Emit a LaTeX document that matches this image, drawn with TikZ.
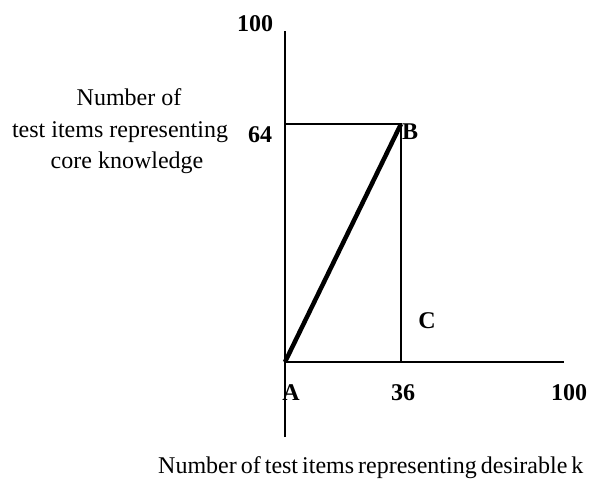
\documentclass[tikz,border=0pt]{standalone}
\usepackage{fontspec}
\setmainfont{Liberation Serif}

\begin{document}
\begin{tikzpicture}[x=1pt, y=-1pt,
        every node/.style={inner sep=0pt, anchor=base, font=\fontsize{24}{31}\selectfont},
        num/.style={font=\fontsize{24}{31}\selectfont\bfseries},
        axis/.style={line width=1.3pt}]
        \useasboundingbox (0,0) rectangle (589,482);
        \coordinate (A) at (285,362);
        \coordinate (ytop) at (285,31);
        \coordinate (ybot) at (285,437);
        \coordinate (xend) at (564,362);
        \coordinate (y64) at (285,124);
        \coordinate (B) at (401,124);
        \coordinate (x36) at (401,362);
        \draw[axis] (ybot) -- (ytop);
        \draw[axis] (A) -- (xend);
        \draw[axis] (y64) -- (B) -- (x36);
        \draw[line width=4.5pt] (A) -- (B);

        \node[num] (ymax) at (255,31) {100};
        \node[num] (y64lab) at (260,142) {64};
        \node[num] (Blab) at (410,139) {B};
        \node[num] (Clab) at (427,328) {C};
        \node[num] (Alab) at (291,400) {A};
        \node[num] (x36lab) at (403,400) {36};
        \node[num] (xmax) at (569,400) {100};

        \node (ytext1) at (129,105) {Number of};
        \node (ytext2) at (120,137) {test items representing};
        \node (ytext3) at (127,168) {core knowledge};
        \node[anchor=base west] (xtext) at (158,473)
            {\spaceskip=4pt Number of test items representing desirable k};
\end{tikzpicture}
\end{document}
